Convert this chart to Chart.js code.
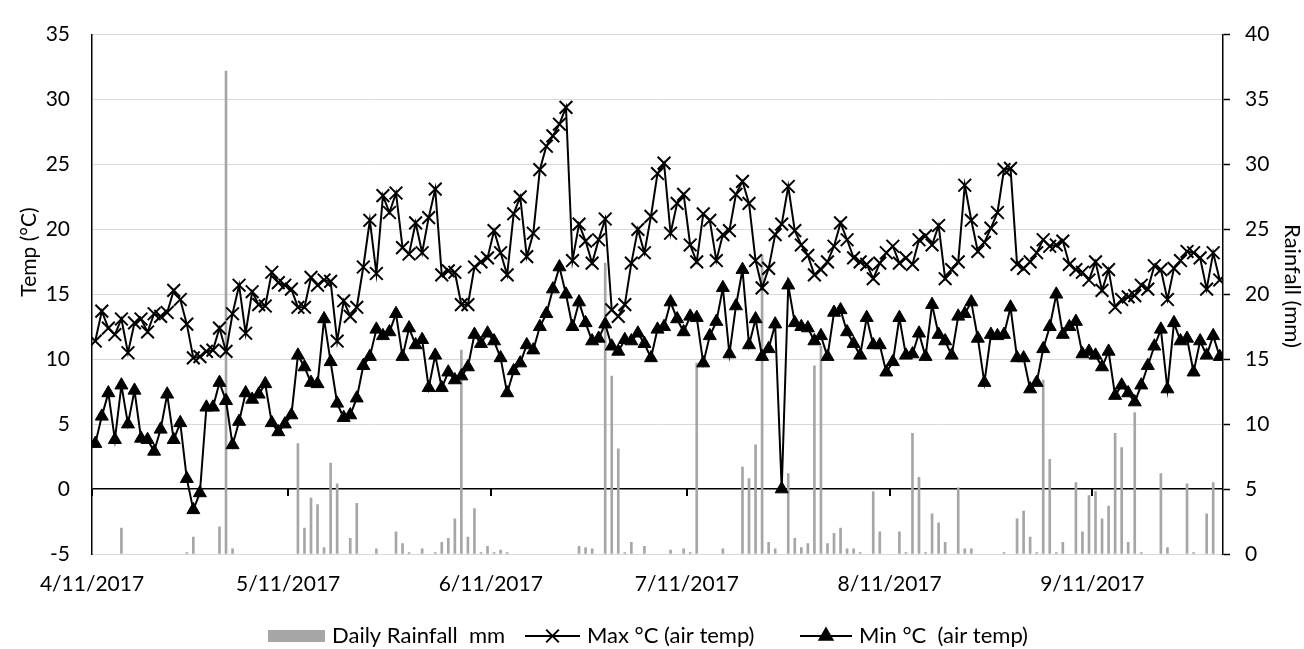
<!DOCTYPE html>
<html>
<head>
<meta charset="utf-8">
<script src="https://cdn.jsdelivr.net/npm/chart.js@4.4.1/dist/chart.umd.min.js"></script>
<style>
  html, body { margin: 0; padding: 0; background: #fff; }
  #wrap { width: 1304px; height: 649px; }
</style>
</head>
<body>
<div id="wrap"><canvas id="weatherChart" width="1304" height="649"></canvas></div>
<script>
// x axis: one point per day, starting 4/11/2017
const tickLabels = ["4/11/2017", "5/11/2017", "6/11/2017", "7/11/2017", "8/11/2017", "9/11/2017"];
const tickDays = [0, 30, 61, 91, 122, 153]; // days after 4/11/2017

const legendNames = ["Daily Rainfall  mm", "Max °C (air temp)", "Min °C  (air temp)"];
const axisTitles = ["Temp (°C)", "Rainfall (mm)"];

const maxTemp = [
    11.4, 13.7, 12.4, 11.9, 13.1, 10.5, 12.8, 13.1, 12.1, 13.5,
    13.3, 13.6, 15.3, 14.6, 12.7, 10.1, 10.2, 10.6, 10.7, 12.4,
    10.6, 13.5, 15.7, 12.0, 15.2, 14.2, 14.1, 16.7, 15.9, 15.7,
    15.4, 14.0, 14.0, 16.3, 15.7, 16.1, 16.0, 11.4, 14.5, 13.3,
    14.0, 17.1, 20.7, 16.6, 22.6, 21.3, 22.8, 18.6, 18.1, 20.5,
    18.2, 20.9, 23.1, 16.5, 16.8, 16.7, 14.2, 14.2, 17.1, 17.5,
    17.8, 19.9, 18.2, 16.5, 21.2, 22.5, 17.9, 19.7, 24.6, 26.4,
    27.2, 28.1, 29.4, 17.6, 20.4, 19.1, 17.4, 19.2, 20.8, 13.8,
    13.3, 14.2, 17.4, 20.0, 18.2, 21.0, 24.3, 25.1, 19.7, 22.0,
    22.7, 18.8, 17.5, 21.2, 20.7, 17.6, 19.6, 19.9, 22.7, 23.7,
    22.0, 17.6, 15.5, 17.0, 19.6, 20.4, 23.3, 19.9, 18.8, 18.0,
    16.5, 16.9, 17.5, 18.7, 20.5, 19.2, 17.8, 17.5, 17.3, 16.2,
    17.4, 18.2, 18.7, 17.4, 17.8, 17.3, 19.2, 19.5, 18.8, 20.3,
    16.2, 16.9, 17.5, 23.4, 20.7, 18.3, 19.0, 20.1, 21.3, 24.6,
    24.7, 17.3, 17.0, 17.5, 18.2, 19.2, 18.7, 18.8, 19.1, 17.3,
    16.9, 16.7, 16.1, 17.5, 15.3, 16.9, 14.0, 14.6, 14.8, 14.9,
    15.7, 15.4, 17.2, 16.9, 14.6, 17.0, 17.6, 18.3, 18.2, 17.8,
    15.4, 18.2, 16.1
];

const minTemp = [
    3.5, 5.6, 7.4, 3.8, 8.0, 5.0, 7.6, 3.9, 3.8, 2.9,
    4.6, 7.3, 3.8, 5.1, 0.8, -1.6, -0.3, 6.3, 6.3, 8.2,
    6.8, 3.4, 5.2, 7.4, 6.9, 7.3, 8.1, 5.1, 4.4, 5.0,
    5.7, 10.3, 9.4, 8.2, 8.1, 13.1, 9.8, 6.6, 5.5, 5.7,
    7.0, 9.5, 10.2, 12.3, 11.8, 12.1, 13.5, 10.2, 12.4, 11.1,
    11.5, 7.8, 10.3, 7.8, 9.0, 8.4, 8.7, 9.4, 11.9, 11.2,
    12.0, 11.4, 10.1, 7.4, 9.1, 9.7, 11.1, 10.7, 12.5, 13.5,
    15.4, 17.1, 15.0, 12.5, 14.4, 12.8, 11.4, 11.6, 12.7, 11.0,
    10.6, 11.5, 11.4, 12.0, 11.2, 10.1, 12.3, 12.5, 14.4, 13.1,
    12.1, 13.3, 13.2, 9.7, 11.8, 12.9, 15.5, 10.4, 14.1, 16.9,
    11.1, 13.1, 10.2, 10.8, 12.7, 0.0, 15.7, 12.8, 12.5, 12.4,
    11.4, 11.8, 10.2, 13.6, 13.8, 12.1, 11.2, 10.3, 13.2, 11.1,
    11.1, 9.0, 9.8, 13.2, 10.3, 10.4, 12.0, 10.2, 14.2, 11.9,
    11.4, 10.3, 13.3, 13.5, 14.4, 11.6, 8.2, 11.9, 11.8, 11.9,
    14.0, 10.1, 10.1, 7.7, 8.2, 10.8, 12.5, 15.0, 11.9, 12.5,
    12.9, 10.4, 10.6, 10.3, 9.4, 10.6, 7.2, 8.0, 7.4, 6.7,
    8.0, 9.5, 11.0, 12.3, 7.7, 12.8, 11.4, 11.6, 9.0, 11.4,
    10.3, 11.8, 10.2
];

// null = no rain that day
const rainfall = [
    null, null, null, null, 2.0, null, null, null, null, null,
    null, null, null, null, 0.1, 1.3, null, null, null, 2.1,
    37.2, 0.4, null, null, null, null, null, null, null, null,
    null, 8.5, 2.0, 4.3, 3.8, 0.5, 7.0, 5.4, null, 1.2,
    3.9, null, null, 0.4, null, null, 1.7, 0.8, 0.1, null,
    0.4, null, 0.1, 0.9, 1.2, 2.7, 15.7, 1.3, 3.5, 0.1,
    0.6, 0.1, 0.3, 0.1, null, null, null, null, null, null,
    null, null, null, null, 0.6, 0.5, 0.4, null, 22.4, 13.7,
    8.1, 0.1, 0.9, null, 0.6, null, null, null, 0.3, null,
    0.4, 0.1, 14.7, null, null, null, 0.4, null, null, 6.7,
    5.8, 8.4, 23.0, 0.9, 0.4, null, 6.2, 1.2, 0.5, 0.8,
    14.5, 16.0, 0.8, 1.6, 2.0, 0.4, 0.4, 0.1, null, 4.8,
    1.7, null, null, 1.7, 0.1, 9.3, 5.9, 0.1, 3.1, 2.4,
    0.9, null, 5.1, 0.4, 0.4, null, null, null, null, 0.1,
    null, 2.7, 3.3, 1.3, 0.1, 13.4, 7.3, 0.1, 0.9, null,
    5.5, 1.7, 4.5, 4.8, 2.7, 3.7, 9.3, 8.2, 0.9, 10.9,
    0.1, null, null, 6.2, 0.5, null, null, 5.4, 0.1, null,
    3.1, 5.5, null
];

const dayIndex = maxTemp.map((_, i) => i);

const FONT = { family: "Lato, 'Liberation Sans', sans-serif", size: 21 };
const RAIN_GREY = "#a6a6a6";

// small downward tick marks on the 0 °C line at each month label
const monthTicks = {
    id: "monthTicks",
    afterDatasetsDraw(chart) {
        const { ctx, scales: { x, y } } = chart;
        const y0 = y.getPixelForValue(0);
        ctx.save();
        ctx.strokeStyle = "#000";
        ctx.lineWidth = 2;
        tickDays.forEach(d => {
            const px = Math.round(x.getPixelForValue(d - 0.5));
            ctx.beginPath();
            ctx.moveTo(px, y0);
            ctx.lineTo(px, y0 + 7);
            ctx.stroke();
        });
        ctx.restore();
    }
};

// rotated axis titles (the left one sits a bit above the middle of the plot)
const axisTitlePlugin = {
    id: "axisTitlePlugin",
    afterDraw(chart) {
        const ctx = chart.ctx;
        ctx.save();
        ctx.fillStyle = "#000";
        ctx.textAlign = "center";
        ctx.textBaseline = "middle";
        ctx.font = "21px " + FONT.family;
        ctx.translate(29, 252);
        ctx.rotate(-Math.PI / 2);
        ctx.fillText(axisTitles[0], 0, 0);
        ctx.restore();

        ctx.save();
        ctx.fillStyle = "#000";
        ctx.textAlign = "center";
        ctx.textBaseline = "middle";
        ctx.font = "22px " + FONT.family;
        ctx.translate(1292, 286);
        ctx.rotate(Math.PI / 2);
        ctx.fillText(axisTitles[1], 0, 0);
        ctx.restore();
    }
};

// legend under the chart: grey box, line + X, line + triangle
const bottomLegend = {
    id: "bottomLegend",
    afterDraw(chart) {
        const ctx = chart.ctx;
        const yc = 636;
        const keyX = [268, 525, 800];
        const keyW = [57, 55, 52];
        ctx.save();
        ctx.font = "22px " + FONT.family;
        ctx.textBaseline = "middle";

        legendNames.forEach((t, i) => {
            const x = keyX[i];
            if (i === 0) {
                ctx.fillStyle = RAIN_GREY;
                ctx.fillRect(x, yc - 6, keyW[i], 12);
            } else {
                ctx.strokeStyle = "#000";
                ctx.lineWidth = 2;
                ctx.beginPath();
                ctx.moveTo(x, yc);
                ctx.lineTo(x + keyW[i], yc);
                ctx.stroke();
                ctx.fillStyle = "#000";
                const opts = i === 1
                    ? { pointStyle: "crossRot", radius: 9, borderWidth: 2, rotation: 0 }
                    : { pointStyle: "triangle", radius: 7.5, borderWidth: 1, rotation: 0 };
                Chart.helpers.drawPoint(ctx, opts, x + keyW[i] / 2, yc);
            }
            ctx.fillStyle = "#000";
            ctx.fillText(t, x + keyW[i] + 7, yc);
        });
        ctx.restore();
    }
};

new Chart(document.getElementById("weatherChart"), {
    type: "line",
    data: {
        labels: dayIndex,
        datasets: [
            {
                type: "line",
                label: legendNames[1],
                data: maxTemp,
                yAxisID: "y",
                borderColor: "#000",
                borderWidth: 2,
                pointStyle: "crossRot",
                pointRadius: 9,
                pointBorderWidth: 2,
                pointBorderColor: "#000",
                pointBackgroundColor: "#000",
                tension: 0,
                order: 1
            },
            {
                type: "line",
                label: legendNames[2],
                data: minTemp,
                yAxisID: "y",
                borderColor: "#000",
                borderWidth: 2,
                pointStyle: "triangle",
                pointRadius: 7.5,
                pointBorderWidth: 1,
                pointBorderColor: "#000",
                pointBackgroundColor: "#000",
                tension: 0,
                order: 2
            },
            {
                type: "bar",
                label: legendNames[0],
                data: rainfall,
                yAxisID: "y1",
                backgroundColor: RAIN_GREY,
                barThickness: 2,
                order: 3
            }
        ]
    },
    options: {
        responsive: false,
        animation: false,
        events: [],
        layout: { padding: { top: 22, bottom: 45, left: 0, right: 0 } },
        plugins: {
            legend: { display: false },
            tooltip: { enabled: false }
        },
        scales: {
            x: {
                type: "linear",
                min: -0.5,
                max: maxTemp.length - 0.5,
                offset: false,
                grid: { display: false, offset: false },
                border: { display: false },
                afterBuildTicks: s => { s.ticks = tickDays.map(d => ({ value: d - 0.5 })); },
                ticks: {
                    autoSkip: false,
                    maxRotation: 0,
                    padding: 10,
                    color: "#000",
                    font: FONT,
                    callback: v => tickLabels[tickDays.indexOf(v + 0.5)]
                },
                afterFit: s => { s.height = 50; }
            },
            y: {
                position: "left",
                min: -5,
                max: 35,
                ticks: { stepSize: 5, padding: 22, color: "#000", font: FONT },
                grid: {
                    drawTicks: false,
                    color: c => (c.tick && c.tick.value === 0 ? "#000" : "#d9d9d9"),
                    lineWidth: c => (c.tick && c.tick.value === 0 ? 1.5 : 1)
                },
                border: { color: "#000", width: 1.5 },
                afterFit: s => { s.width = 92; }
            },
            y1: {
                position: "right",
                min: 0,
                max: 40,
                ticks: { stepSize: 5, padding: 15, color: "#000", font: FONT },
                grid: { drawOnChartArea: false, drawTicks: true, tickLength: 7, tickColor: "#000", tickWidth: 1.5 },
                border: { color: "#000", width: 1.5 },
                afterFit: s => { s.width = 81; }
            }
        }
    },
    plugins: [monthTicks, axisTitlePlugin, bottomLegend]
});
</script>
</body>
</html>
